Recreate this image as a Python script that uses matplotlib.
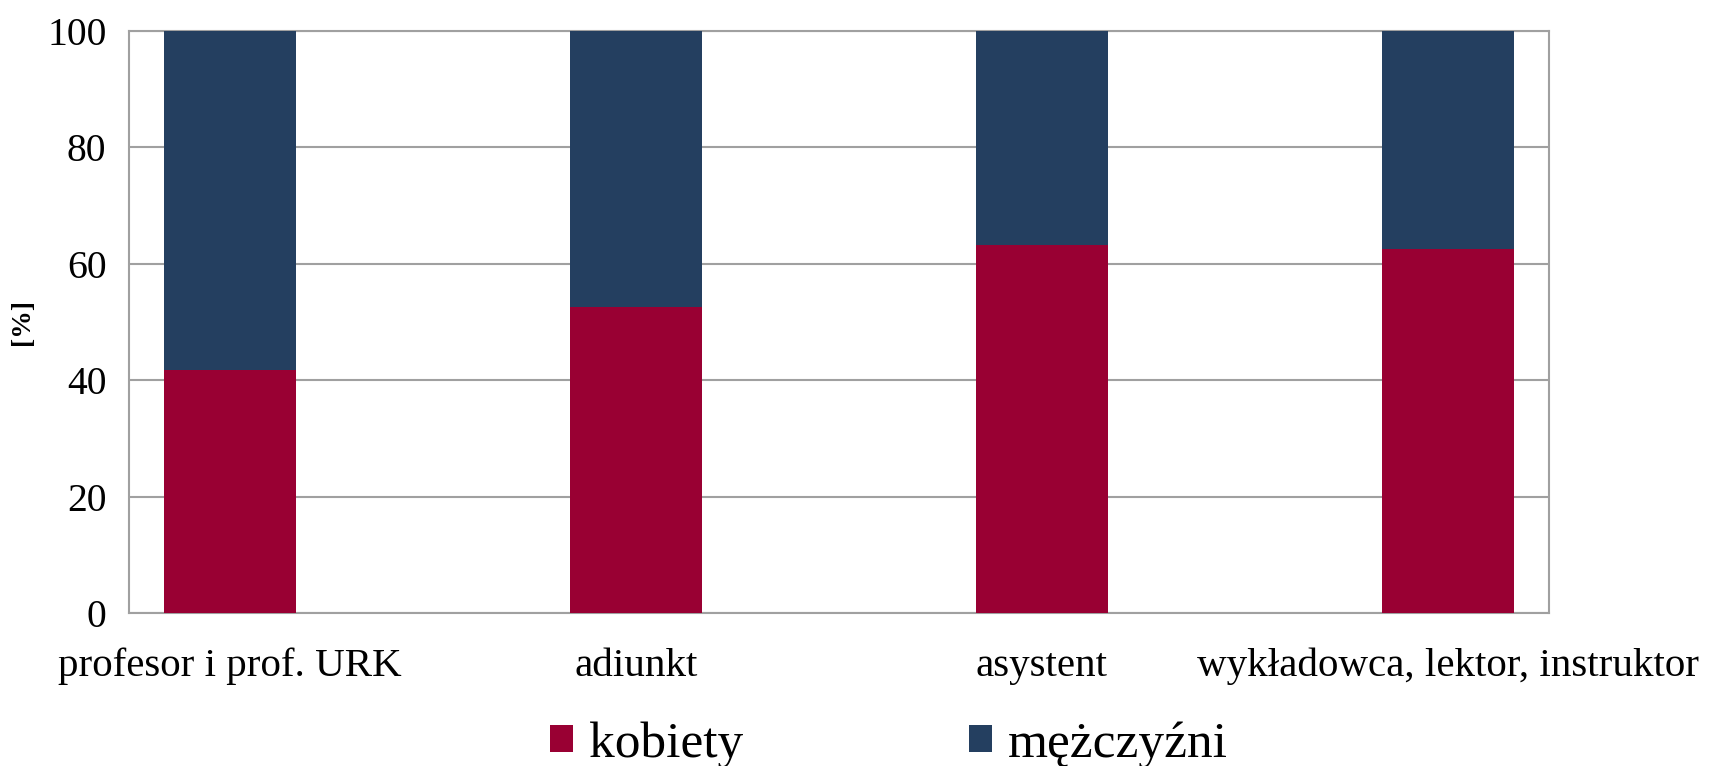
import matplotlib.pyplot as plt
import matplotlib as mpl
import numpy as np
from matplotlib.patches import Patch

categories = ['profesor i prof. URK', 'adiunkt', 'asystent', 'wykładowca, lektor, instruktor']
kobiety = [41.8, 52.6, 63.3, 62.6]
mezczyzni = [100 - v for v in kobiety]
series_names = ['kobiety', 'mężczyźni']
yticks = [0, 20, 40, 60, 80, 100]

mpl.rcParams['font.family'] = ['Liberation Serif', 'DejaVu Serif']

red = '#990033'
navy = '#243F60'
grid = '#a0a0a0'

fig = plt.figure(figsize=(17.16, 7.66), dpi=100)
ax = fig.add_axes([0.075, 0.1997, 0.8277, 0.7598])

x = np.arange(len(categories))
ax.bar(x, kobiety, width=0.325, color=red, zorder=3)
ax.bar(x, mezczyzni, width=0.325, bottom=kobiety, color=navy, zorder=3)

ax.set_xlim(-0.25, len(categories) - 0.75)
ax.set_ylim(0, 100)
ax.set_yticks(yticks)
ax.set_xticks(x)
ax.set_xticklabels(categories)
ax.tick_params(axis='x', length=0, pad=25, labelsize=29.5)
ax.tick_params(axis='y', length=0, pad=16, labelsize=28.5)
ax.yaxis.grid(True, color=grid, linewidth=1.5, zorder=0)
for s in ax.spines.values():
    s.set_color(grid)
    s.set_linewidth(1.5)

fig.text(0.013, (0.1997 + 0.9595) / 2, '[%]', rotation=90, fontsize=20,
         fontweight='bold', ha='center', va='center')

handles = [Patch(facecolor=red), Patch(facecolor=navy)]
fig.legend(handles, series_names, loc='center', bbox_to_anchor=(0.518, 0.028),
           ncol=2, frameon=False, fontsize=37, handlelength=0.45, handleheight=0.45,
           handletextpad=0.3, columnspacing=4.4)

fig.savefig('out.png', dpi=100)
